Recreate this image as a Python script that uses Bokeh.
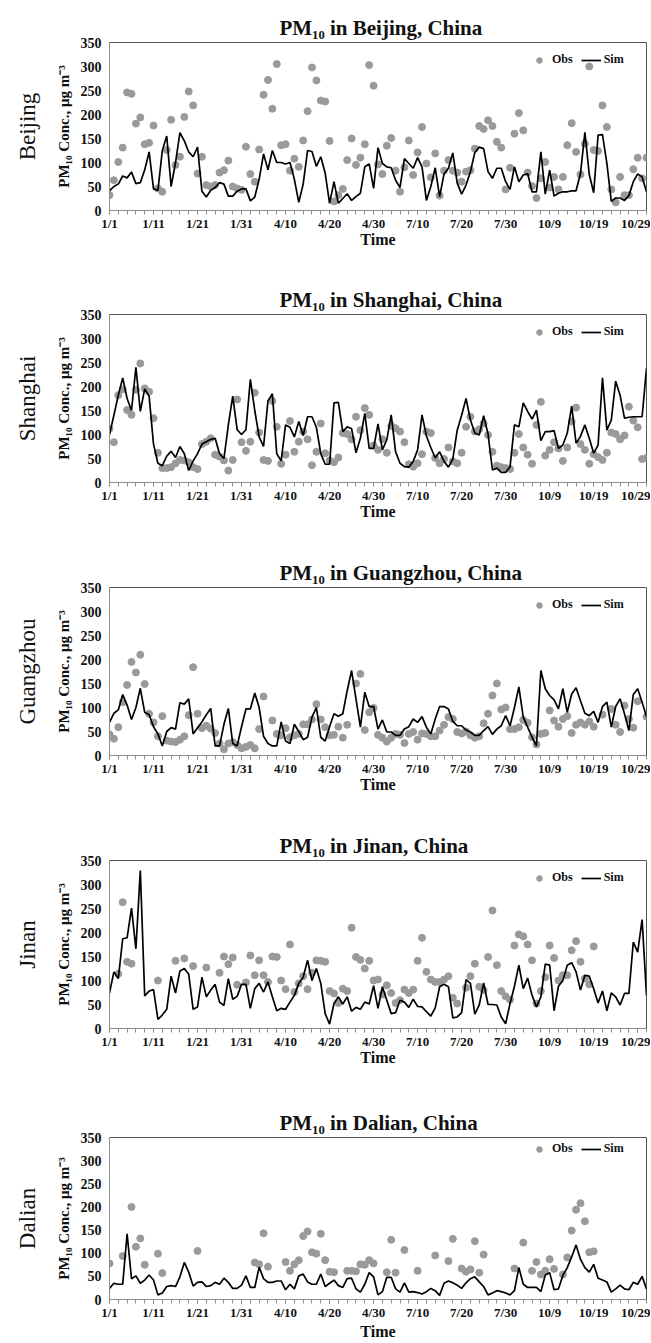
from bokeh.plotting import figure
from bokeh.layouts import column
from bokeh.models import Range1d, FixedTicker, Legend, LegendItem, Title
from bokeh.embed import file_html
from bokeh.resources import INLINE

# ---------------- data (PM10, ug m-3; days: Jan, Apr, Jul, Oct) ----------------
TICK_POS = [0, 10, 20, 30, 40, 50, 60, 70, 80, 90, 100, 110, 120]
TICK_LABELS = ["1/1", "1/11", "1/21", "1/31", "4/10", "4/20", "4/30",
               "7/10", "7/20", "7/30", "10/9", "10/19", "10/29"]
CITIES = ["Beijing", "Shanghai", "Guangzhou", "Jinan", "Dalian"]

BEIJING_SIM = [41, 50, 55, 72, 68, 80, 56, 58, 85, 122,
               45, 42, 125, 155, 50, 100, 162, 145, 122, 112,
               132, 40, 28, 42, 48, 58, 55, 30, 30, 40,
               45, 45, 20, 28, 65, 118, 85, 125, 100, 100,
               97, 100, 65, 17, 55, 125, 123, 92, 112, 78,
               15, 60, 15, 25, 35, 21, 29, 36, 91, 97,
               46, 131, 98, 91, 89, 63, 48, 108, 98, 88,
               110, 91, 21, 50, 89, 29, 76, 88, 120, 57,
               34, 53, 81, 121, 132, 129, 81, 67, 88, 88,
               60, 44, 91, 60, 74, 77, 39, 39, 122, 34,
               84, 30, 36, 39, 39, 41, 41, 77, 163, 75,
               37, 157, 158, 98, 19, 26, 26, 21, 31, 60,
               76, 70, 39]
BEIJING_OBS = [32, 63, 101, 131, 246, 243, 181, 194, 138, 141,
               177, 46, 39, 126, 189, 95, 112, 195, 248, 219,
               77, 112, 53, 50, 53, 79, 84, 104, 50, 46,
               43, 133, 76, 60, 127, 241, 272, 212, 305, 136,
               138, 83, 108, 91, 146, 207, 298, 271, 229, 227,
               145, 19, 32, 45, 105, 150, 95, 110, 138, 303,
               260, 96, 76, 135, 151, 83, 39, 90, 146, 74,
               121, 174, 98, 69, 119, 31, 83, 105, 83, 79,
               60, 81, 84, 129, 176, 170, 188, 176, 143, 131,
               44, 89, 160, 203, 167, 79, 51, 26, 67, 101,
               48, 70, 44, 70, 136, 182, 122, 75, 139, 300,
               126, 124, 219, 174, 44, 17, 70, 32, 32, 86,
               110, 67, 110]

SHANGHAI_SIM = [100, 140, 182, 218, 175, 150, 240, 148, 195, 180,
                80, 40, 35, 55, 65, 52, 75, 60, 25, 45,
                60, 80, 85, 90, 92, 60, 50, 120, 180, 110,
                100, 110, 215, 150, 95, 75, 170, 185, 60, 45,
                120, 115, 95, 127, 98, 137, 137, 115, 60, 38,
                38, 166, 167, 106, 116, 112, 62, 92, 144, 71,
                71, 122, 68, 89, 141, 64, 40, 33, 32, 44,
                68, 141, 97, 73, 51, 64, 44, 32, 49, 109,
                140, 175, 130, 103, 99, 139, 101, 26, 30, 21,
                21, 33, 120, 116, 166, 148, 132, 151, 87, 106,
                106, 108, 71, 78, 103, 159, 82, 96, 120, 92,
                61, 78, 218, 109, 130, 211, 182, 134, 136, 137,
                137, 137, 238]
SHANGHAI_OBS = [112, 84, 182, 194, 151, 141, 193, 248, 196, 189,
                134, 62, 30, 30, 32, 40, 47, 46, 42, 32,
                28, 80, 85, 92, 58, 54, 46, 25, 47, 173,
                84, 66, 85, 187, 104, 47, 45, 170, 116, 39,
                58, 128, 64, 85, 106, 90, 36, 64, 123, 61,
                46, 42, 52, 103, 101, 90, 137, 109, 155, 141,
                77, 68, 90, 62, 118, 113, 106, 84, 38, 33,
                40, 59, 106, 103, 51, 40, 49, 73, 44, 40,
                62, 116, 137, 106, 111, 123, 99, 64, 35, 32,
                30, 28, 62, 101, 73, 58, 39, 120, 168, 56,
                68, 84, 71, 45, 73, 127, 156, 80, 68, 39,
                59, 53, 47, 62, 104, 101, 90, 98, 158, 129,
                115, 49, 51]

GUANGZHOU_SIM = [69, 88, 95, 127, 105, 75, 100, 140, 90, 85,
                 60, 45, 20, 50, 58, 55, 110, 107, 118, 45,
                 58, 70, 85, 98, 20, 20, 65, 98, 25, 20,
                 60, 97, 97, 130, 100, 40, 25, 20, 20, 70,
                 30, 25, 65, 50, 33, 38, 80, 100, 38, 30,
                 60, 87, 82, 87, 135, 177, 118, 59, 132, 102,
                 102, 55, 74, 49, 49, 42, 42, 55, 60, 76,
                 69, 81, 59, 45, 76, 102, 102, 97, 71, 62,
                 62, 53, 49, 42, 42, 52, 60, 44, 55, 62,
                 83, 62, 100, 143, 80, 59, 38, 20, 177, 139,
                 125, 116, 97, 139, 90, 128, 141, 114, 88, 83,
                 92, 69, 102, 111, 59, 102, 118, 87, 52, 127,
                 139, 111, 81]
GUANGZHOU_OBS = [44, 35, 59, 111, 147, 195, 173, 210, 149, 87,
                 69, 40, 82, 31, 29, 28, 33, 40, 84, 184,
                 87, 57, 62, 56, 47, 25, 13, 25, 28, 22,
                 15, 18, 22, 15, 55, 123, None, 73, 45, 42,
                 57, 38, 42, 45, 65, 65, 75, 107, 75, 59,
                 42, 43, 60, 37, 64, None, 150, 170, 53, 90,
                 99, 43, 37, 29, 37, 45, 43, 26, 45, 49,
                 33, 46, 45, 40, 40, 52, 64, 80, 76, 49,
                 46, 50, 42, 37, 40, 67, 87, 125, 150, 96,
                 100, 55, 55, 59, 74, 68, 38, 23, 45, 47,
                 94, 73, 60, 76, 82, 47, 64, 69, 64, 71,
                 60, None, 85, None, 97, 64, 49, 104, 76, 58,
                 113, None, 81]

JINAN_SIM = [74, 118, 104, 187, 189, 251, 166, 329, 68, 78,
             81, 19, 28, 40, 109, 74, 120, 125, 113, 40,
             45, 107, 66, 80, 92, 55, 48, 104, 61, 67,
             92, 92, 42, 83, 94, 76, 97, 66, 37, 42,
             40, 55, 69, 94, 107, 142, 100, 125, 94, 31,
             9, 52, 66, 51, 66, 36, 44, 40, 55, 51,
             89, 42, 87, 59, 31, 33, 59, 55, 44, 61,
             46, 45, 35, 26, 43, 87, 92, 87, 22, 24,
             33, 102, 94, 30, 49, 95, 50, 50, 49, 24,
             10, 52, 88, 132, 83, 105, 69, 45, 66, 134,
             132, 37, 88, 100, 132, 137, 118, 80, 111, 109,
             83, 53, 78, 37, 74, 66, 49, 73, 73, 180,
             159, 227, 69]
JINAN_OBS = [None, None, 114, 263, 139, 135, None, None, None, None,
             None, 100, None, None, None, 141, None, 146, None, 130,
             None, None, 127, None, None, 116, 150, 134, 148, 91,
             None, 96, 152, 111, 142, 111, 97, 150, 149, 100,
             82, 175, 76, 94, 109, 82, 116, 142, 141, 139,
             78, 73, 53, 83, 78, 210, 149, 143, 125, 141,
             100, 102, 71, 90, 74, 53, 59, 81, 74, 81,
             141, 189, 118, 102, 97, 97, 102, 109, 64, 52,
             None, 85, 109, 135, 87, 80, 149, 246, 132, 78,
             67, 60, 173, 196, 192, 175, 142, 52, 78, 107,
             173, 147, 100, 111, 111, 163, 182, 139, 104, 92,
             171, None, None, None, None, None, None, None, None, None,
             None, None, None]

DALIAN_SIM = [24, 35, 33, 33, 142, 45, 51, 35, 42, 53,
              42, 10, 14, 28, 30, 28, 49, 80, 59, 29,
              37, 38, 28, 30, 37, 33, 46, 37, 24, 24,
              31, 51, 26, 26, 70, 45, 37, 37, 40, 40,
              21, 33, 23, 51, 55, 38, 33, 33, 55, 28,
              35, 42, 30, 26, 45, 46, 23, 16, 33, 58,
              49, 10, 17, 48, 48, 23, 16, 36, 16, 17,
              15, 12, 17, 24, 19, 9, 35, 40, 36, 31,
              24, 36, 45, 49, 38, 28, 10, 14, 19, 17,
              14, 10, 19, 69, 33, 26, 26, 26, 17, 53,
              58, 21, 23, 52, 69, 92, 118, 87, 69, 59,
              76, 46, 42, 38, 16, 23, 31, 23, 21, 37,
              33, 50, 23]
DALIAN_OBS = [78, None, None, 94, None, 200, 114, 132, 75, None,
              None, 99, 57, None, None, None, None, None, None, None,
              105, None, None, None, None, None, None, None, None, None,
              None, None, None, 80, 76, 143, 71, None, None, None,
              81, 62, 76, 85, 137, 147, 102, 99, 142, 85,
              60, 59, None, None, 62, 62, 61, 76, 75, 85,
              78, None, None, 59, 129, 58, None, 107, None, None,
              62, None, None, None, 95, None, None, 83, 131, None,
              67, 60, 65, 126, 58, 97, None, None, None, None,
              None, None, 67, None, 123, None, 62, 81, 54, 62,
              87, 66, None, 54, 91, 149, 194, 208, 169, 102,
              104, None, None, None, None, None, None, None, None, None,
              None, None, None]

SIM = [BEIJING_SIM, SHANGHAI_SIM, GUANGZHOU_SIM, JINAN_SIM, DALIAN_SIM]
OBS = [BEIJING_OBS, SHANGHAI_OBS, GUANGZHOU_OBS, JINAN_OBS, DALIAN_OBS]

# ---------------- styling / layout ----------------
FONT = "Liberation Serif"
X_END = len(BEIJING_SIM) - 1
Y_END = 350
FRAME_H = 168
HEIGHTS = [272, 273, 273, 277, 247]
TIME_STANDOFF = [-3, -3, -3, -3, 0]
TOP = 42
LEFT = 106
FIG_W = 650
OBS_COLOR = "#9a9a9a"
AXIS_COLOR = "#8c8c8c"
TEXT_COLOR = "#111111"

figs = []
for k, city in enumerate(CITIES):
    H = HEIGHTS[k]
    p = figure(width=FIG_W, height=H, x_range=Range1d(0, X_END),
               y_range=Range1d(0, Y_END), output_backend="svg",
               toolbar_location=None, tools="",
               min_border_left=LEFT, min_border_right=FIG_W - LEFT - 540,
               min_border_top=TOP, min_border_bottom=H - TOP - FRAME_H)
    p.grid.visible = False
    p.outline_line_color = "#555555"
    p.outline_line_width = 1
    p.background_fill_color = "white"
    p.border_fill_color = "white"

    xs = list(range(len(SIM[k])))
    obs_x = [i for i, v in enumerate(OBS[k]) if v is not None]
    obs_y = [v for v in OBS[k] if v is not None]
    r_obs = p.scatter(x=obs_x, y=obs_y, marker="circle", size=7,
                      fill_color=OBS_COLOR, line_color=OBS_COLOR)
    r_sim = p.line(x=xs, y=SIM[k], line_color="black", line_width=1.7)

    # title
    p.title = Title(text="PM\u2081\u2080 in %s, China" % city, align="left",
                    offset=170, standoff=6, text_font=FONT,
                    text_font_size="21px", text_font_style="bold",
                    text_color=TEXT_COLOR)

    # x axis
    xa = p.xaxis[0]
    xa.ticker = FixedTicker(ticks=TICK_POS, minor_ticks=list(range(0, X_END + 1, 2)))
    xa.major_label_overrides = {t: l for t, l in zip(TICK_POS, TICK_LABELS)}
    xa.major_label_text_font_size = "13px"
    xa.major_label_standoff = 1
    xa.major_tick_out = 4
    xa.minor_tick_out = 4
    xa.axis_label = "Time"
    xa.axis_label_standoff = TIME_STANDOFF[k]
    xa.axis_label_text_font_size = "16px"
    # y axis
    ya = p.yaxis[0]
    ya.ticker = FixedTicker(ticks=list(range(0, Y_END + 1, 50)))
    ya.major_label_text_font_size = "14px"
    ya.major_tick_out = 0
    ya.major_label_standoff = 8
    ya.axis_label = "PM\u2081\u2080 Conc., \u03bcg m\u207b\u00b3"
    ya.axis_label_standoff = 6
    ya.axis_label_text_font_size = "15px"
    for ax in (xa, ya):
        ax.axis_line_color = AXIS_COLOR
        ax.major_tick_line_color = AXIS_COLOR
        ax.minor_tick_line_color = AXIS_COLOR
        ax.major_tick_in = 0
        ax.minor_tick_in = 0
        ax.major_label_text_font = FONT
        ax.major_label_text_font_style = "bold"
        ax.major_label_text_color = TEXT_COLOR
        ax.axis_label_text_font = FONT
        ax.axis_label_text_font_style = "bold"
        ax.axis_label_text_color = TEXT_COLOR
    ya.minor_tick_line_color = None

    # city name at far left
    p.add_layout(Title(text=city, align="center", offset=9, standoff=25,
                       text_font=FONT, text_font_size="23px",
                       text_font_style="normal", text_color=TEXT_COLOR), "left")

    legend = Legend(items=[LegendItem(label="Obs", renderers=[r_obs]),
                           LegendItem(label="Sim", renderers=[r_sim])],
                    orientation="horizontal", location=(420, FRAME_H - 25),
                    padding=0, margin=0, spacing=8, label_standoff=3,
                    glyph_width=20, glyph_height=14, label_height=14,
                    label_text_font=FONT, label_text_font_style="bold",
                    label_text_font_size="12px", label_text_color=TEXT_COLOR,
                    border_line_alpha=0, background_fill_alpha=0)
    p.add_layout(legend)
    figs.append(p)

layout = column(*figs, spacing=0)
open("out.html", "w").write(file_html(layout, INLINE))
